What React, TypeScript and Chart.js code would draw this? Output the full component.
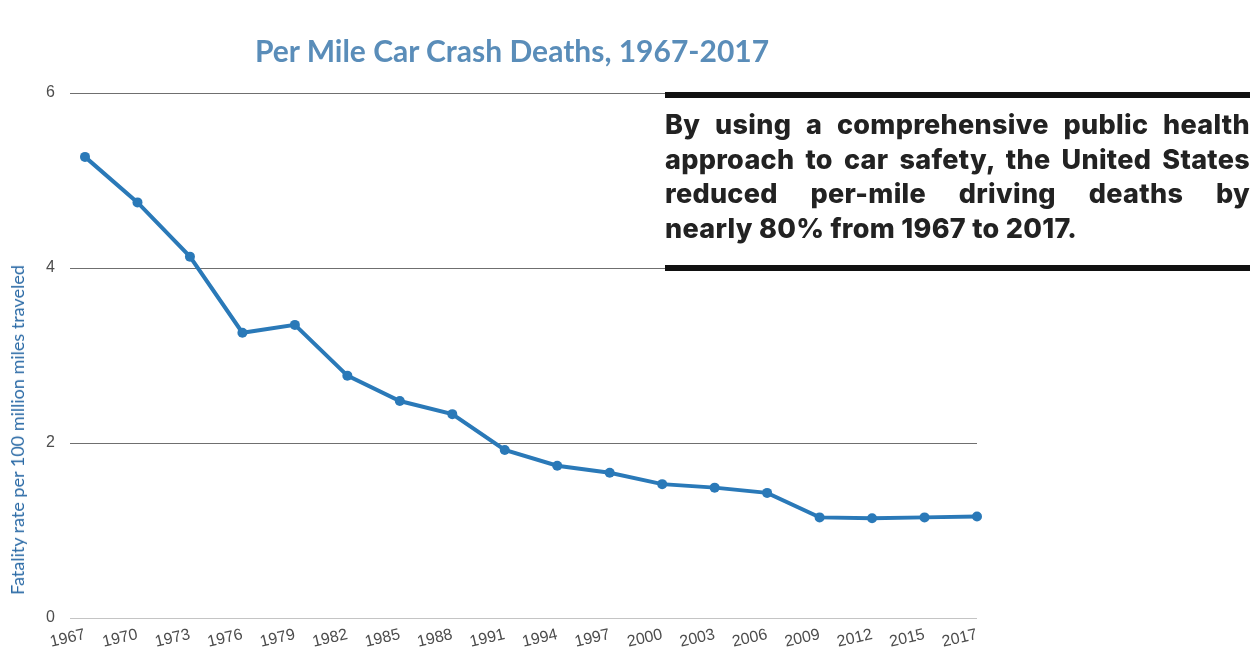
import React, { useEffect, useRef } from "react";
import { Chart, registerables } from "chart.js";

Chart.register(...registerables);

const years: string[] = [
  "1967", "1970", "1973", "1976", "1979", "1982", "1985", "1988", "1991",
  "1994", "1997", "2000", "2003", "2006", "2009", "2012", "2015", "2017",
];
const fatalityRate: number[] = [
  5.27, 4.75, 4.13, 3.26, 3.35, 2.77, 2.48, 2.33, 1.92,
  1.74, 1.66, 1.53, 1.49, 1.43, 1.15, 1.14, 1.15, 1.16,
];
const yMin = 0;
const yMax = 6;
const yStep = 2;

const titleText = "Per Mile Car Crash Deaths, 1967-2017";
const yAxisTitle = "Fatality rate per 100 million miles traveled";
const noteLines: string[] = [
  "By using a comprehensive public health",
  "approach to car safety, the United States",
  "reduced per-mile driving deaths by",
  "nearly 80% from 1967 to 2017.",
];

const LINE_COLOR = "#2a79b8";

export default function App() {
  const canvasRef = useRef<HTMLCanvasElement | null>(null);

  useEffect(() => {
    if (!canvasRef.current) return;
    const chart = new Chart(canvasRef.current, {
      type: "line",
      data: {
        labels: years,
        datasets: [
          {
            data: fatalityRate,
            borderColor: LINE_COLOR,
            backgroundColor: LINE_COLOR,
            borderWidth: 4,
            pointRadius: 5,
            pointBackgroundColor: LINE_COLOR,
            pointBorderWidth: 0,
            tension: 0,
            clip: false as any,
          },
        ],
      },
      options: {
        animation: false,
        responsive: false,
        maintainAspectRatio: false,
        layout: {
          autoPadding: false,
          padding: { left: 30, top: 93, right: 283, bottom: 0 },
        },
        plugins: {
          legend: { display: false },
          title: { display: false },
          tooltip: { enabled: false },
        },
        scales: {
          x: {
            type: "category",
            offset: false,
            border: { display: false },
            grid: { display: false, drawTicks: false },
            ticks: {
              autoSkip: false,
              minRotation: 13,
              maxRotation: 13,
              padding: 7,
              color: "#4d4d4d",
              font: { family: "'Liberation Sans', Arial, sans-serif", size: 16 },
            },
            afterFit: (s: any) => {
              s.height = 30;
            },
          },
          y: {
            min: yMin,
            max: yMax,
            border: { display: false },
            grid: {
              color: (ctx: any) => (ctx.tick && ctx.tick.value === 0 ? "#c4c4c4" : "#6f6f6f"),
              lineWidth: 1,
              drawTicks: true,
              tickLength: 15,
            },
            ticks: {
              stepSize: yStep,
              padding: 15,
              color: "#4d4d4d",
              font: { family: "'Liberation Sans', Arial, sans-serif", size: 16 },
            },
            afterFit: (s: any) => {
              s.width = 55;
            },
          },
        },
      },
    });
    return () => chart.destroy();
  }, []);

  return (
    <div
      style={{
        position: "absolute",
        left: 0,
        top: 0,
        width: 1260,
        height: 648,
        background: "#ffffff",
        overflow: "hidden",
      }}
    >
      <canvas
        ref={canvasRef}
        width={1260}
        height={648}
        style={{ position: "absolute", left: 0, top: 0, width: 1260, height: 648 }}
      />
      <div
        style={{
          position: "absolute",
          left: 512,
          top: 35,
          transform: "translateX(-50%)",
          whiteSpace: "nowrap",
          fontFamily: "Lato, sans-serif",
          fontWeight: 700,
          fontSize: 30,
          lineHeight: "30px",
          color: "#5a8db9",
        }}
      >
        {titleText}
      </div>
      <div
        style={{
          position: "absolute",
          left: 17,
          top: 430,
          transform: "translate(-50%, -50%) rotate(-90deg)",
          whiteSpace: "nowrap",
          fontFamily: "Lato, sans-serif",
          fontSize: 18,
          lineHeight: "18px",
          color: "#2c6ba6",
        }}
      >
        {yAxisTitle}
      </div>
      <div
        style={{
          position: "absolute",
          left: 665,
          top: 92,
          width: 585,
          height: 6,
          background: "#111111",
        }}
      />
      <div
        style={{
          position: "absolute",
          left: 665,
          top: 265,
          width: 585,
          height: 6,
          background: "#111111",
        }}
      />
      <div
        style={{
          position: "absolute",
          left: 665,
          top: 108,
          width: 585,
          fontFamily: "Inter, sans-serif",
          fontWeight: 800,
          fontSize: 27,
          letterSpacing: 0.3,
          lineHeight: "34.5px",
          color: "#222222",
        }}
      >
        {noteLines.map((line, i) => (
          <div
            key={i}
            style={{
              whiteSpace: "nowrap",
              textAlign: i < noteLines.length - 1 ? "justify" : "left",
              textAlignLast: i < noteLines.length - 1 ? "justify" : "left",
            } as any}
          >
            {line}
          </div>
        ))}
      </div>
    </div>
  );
}
